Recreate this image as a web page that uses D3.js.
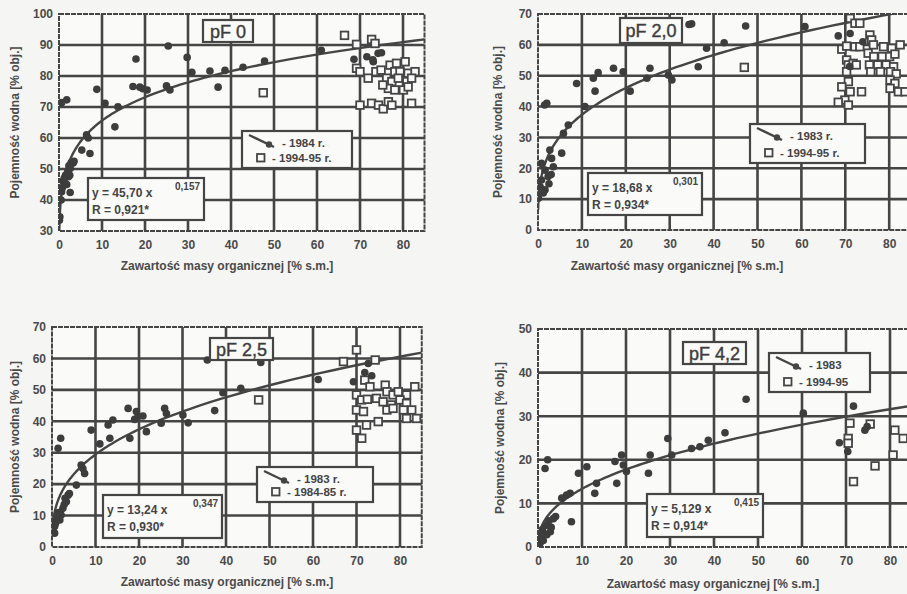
<!DOCTYPE html>
<html>
<head>
<meta charset="utf-8">
<script src="https://cdn.jsdelivr.net/npm/d3@7"></script>
<style>
  body { margin: 0; background: #f5f5f4; }
  svg { display: block; font-family: "Liberation Sans", Arial, sans-serif; }
  .tick { font-size: 12px; font-weight: bold; fill: #4a4a4a; }
  .axlabel { font-size: 12px; font-weight: bold; fill: #4a4a4a; }
  .boxtext { font-size: 12px; font-weight: bold; fill: #444; }
</style>
</head>
<body>
<svg id="chart" width="907" height="594"></svg>
<script>
// ---- data ----
const panelNames = ["pF 0", "pF 2,0", "pF 2,5", "pF 4,2"];
const coefA = [45.70, 18.68, 13.24, 5.129];
const coefB = [0.157, 0.301, 0.347, 0.415];
const coefLabels = ["45,70", "18,68", "13,24", "5,129"];
const expLabels = ["0,157", "0,301", "0,347", "0,415"];
const rLabels = ["0,921*", "0,934*", "0,930*", "0,914*"];
const yMins = [30, 0, 0, 0];
const yMaxs = [100, 70, 70, 50];
const legendFirst = ["- 1984 r.", "- 1983 r.", "- 1983 r.", "- 1983"];
const legendSecond = ["- 1994-95 r.", "- 1994-95 r.", "- 1984-85 r.", "- 1994-95"];

const pf0Circles = [[25.4,89.7],[17.9,85.5],[29.8,86],[30.9,81.2],[35.1,81.6],[38.6,81.8],[42.8,82.8],[37,76.4],
  [8.8,75.7],[17.2,76.6],[18.8,76.4],[19.5,75.9],[20.5,75.5],[25,76.8],[25.8,75.5],[1.8,72.3],[0.6,71.4],
  [10.7,71.2],[13.7,70.1],[13,63.6],[6.4,61],[6.8,60],[5.3,56.1],[7.2,55],[3.3,51.9],[2.6,50.2],[2.2,47.5],
  [1.4,45.4],[2.6,42.4],[0.6,42.7],[0.2,34.6],[0.1,33.5],[0.8,44],[1,46],[1.2,47],[1.5,48],[2,49],[2.3,51],
  [2.8,52],[3.5,52.5],[1.8,45],[0.5,40],[2.5,48],[47.8,84.8],[61,88.3],[68.6,85.4],[71.6,86.2],[73,85.2],
  [73.1,84.6],[74.2,87.3],[75,87.5]];
const pf0Squares = [[66.4,93.1],[69.2,90.2],[72.7,91.8],[73.5,90.5],[47.5,74.6],[69.2,82.5],[70,81.4],[71.9,79.3],
  [73.7,81.4],[74.9,81.9],[77,83.5],[78.5,84.1],[80.5,84.6],[78.1,81.4],[79.3,81.4],[81.2,80.9],[82.8,81.4],
  [76.2,79.3],[77.4,78.2],[78.9,79.3],[80.9,78.2],[82,79.3],[76.6,76],[78.1,75.5],[80.1,75.5],[81.2,76.5],
  [75.3,77.1],[70,70.6],[72.7,71.2],[74.3,70.6],[75.4,69.4],[76.6,71.7],[77.4,70.6],[82,71.2]];

const pf20Circles = [[35,66.8],[34.4,66.6],[47.3,66.1],[38.4,58.9],[42.4,60.7],[36.5,52.9],[8.8,47.5],[12.6,49.2],
  [13.7,51],[17.2,52.4],[19.4,51.3],[13,45],[21,45],[25.5,52.4],[24.8,49.2],[29.7,50.2],[30.5,48.6],[2,41.1],
  [1.5,40.5],[10.7,40],[6.9,34],[5.8,31.3],[5.4,24.9],[2.7,25.9],[0.8,21.6],[1.6,19.4],[2.3,17.3],[0.5,14],
  [0.8,16.2],[0.1,10.3],[3.1,23.2],[3.5,20.5],[1.6,13],[2.5,15],[3,18],[1.2,12],[60.8,65.9],[68.4,62.9],
  [71.1,63.7],[71,53],[74,61]];
const pf20Squares = [[71.1,68.6],[72.2,67],[73.3,67],[47,52.7],[69.2,58.6],[70.3,59.6],[72.2,59.4],[73.3,59.4],
  [75.6,63.2],[76,61.6],[76.4,60],[78.7,59.4],[80.6,58.9],[82.5,60],[75.2,57.3],[76.5,56.2],[78.4,56.2],
  [80.1,56.2],[81.3,57],[75.5,53.5],[77.4,53.5],[79.3,53.5],[81,52.9],[75.8,51.3],[78,51.3],[80.3,51.3],
  [81.6,50.6],[70.3,55.1],[70.7,53.5],[71.8,54],[72.5,53.5],[70.3,51.3],[70.7,48.1],[69.2,46.4],[71.1,44.8],
  [73.7,44.8],[69.9,42.1],[68.4,41.4],[70.7,40.5],[80.2,48.6],[81.3,47.5],[80.2,45.9],[82.1,44.8],[83.6,44.8]];

const pf25Circles = [[35.7,59.5],[39.3,49.1],[43.4,50.5],[48,58.7],[37.4,43.4],[17.5,44.1],[19.4,43.1],[19.8,41.5],
  [20.9,41.7],[19,40.6],[25.9,44.1],[26.3,42.5],[30.1,42],[31.3,39.5],[25.1,39.4],[14,40.4],[12.9,38.8],
  [9,37.2],[17.9,34.6],[21.7,36.7],[13.3,34.6],[11,32.8],[2,34.6],[1.4,31.4],[6.7,26.1],[7.1,25],[7.5,23.4],
  [5.6,19.7],[3.7,16.5],[3.3,14.4],[2.5,12.3],[2.1,10.2],[1.8,8.6],[0.6,6.5],[0.6,4.4],[3,15.5],[2.8,13.5],
  [1.5,11],[1,9],[0.8,7.5],[4,17],[61.2,53.3],[69.3,52.6],[71.9,55.5],[72.7,58.4],[73.5,54.5]];
const pf25Squares = [[70,62.7],[67,59],[74.3,59.5],[47.5,46.8],[71.9,53.1],[73.1,51],[70,48.4],[71.2,46.8],
  [72.5,47],[70,43.6],[71.6,43.1],[70,37.2],[71.2,34.6],[72.3,38.8],[75,39.9],[76.6,51.5],[77,49.4],[78.4,48.4],
  [79.6,49.4],[81.5,48.4],[83.4,51],[74.6,47.3],[76.1,46.2],[78,45.2],[80,46.8],[81.5,45.7],[80.8,43.6],
  [82.7,43.6],[81.5,40.9],[83.8,40.9],[77,43.6],[78.4,44.1]];

const pf42Circles = [[42.5,26.2],[29.5,24.9],[38.7,24.5],[36.8,23],[34.9,22.6],[30.4,21.1],[25.5,21.1],[19,21.1],
  [19.4,18.8],[17.5,19.6],[20.1,17.3],[25.1,16.9],[17.9,14.6],[11.1,18.4],[9.2,16.9],[2.2,20],[1.6,18],
  [13.3,14.6],[12.9,12.3],[7.3,12.3],[6.5,11.9],[5.4,11.2],[7.6,5.8],[47.3,33.9],[60.3,30.7],[71.7,32.3],
  [74.3,26.8],[74.8,27.6],[68.5,23.9],[70.4,21.9],[0.5,1],[0.8,2.5],[1,4],[1.5,3],[2,5],[2.5,6],[3,4.5],
  [3.5,6.5],[4,7],[1.2,1.5],[2,2.8],[0.3,0.5],[2.8,3.5]];
const pf42Squares = [[70.9,28.4],[75.5,28.2],[70.5,24.9],[70.5,23.8],[81.1,26.8],[83,24.9],[80.7,21.1],
  [76.6,18.6],[71.7,15]];

const circleSets = [pf0Circles, pf20Circles, pf25Circles, pf42Circles];
const squareSets = [pf0Squares, pf20Squares, pf25Squares, pf42Squares];

// ---- layout ----
const ink = "#454545";
const panels = [
  {left: 59,  top: 14,  pxX: 4.3,  bottom: 231, eq: [29,164,116,42],  leg: [183,117,110,37], pf: [144,6,50,22],  yLab: 15,  xLab: [227,270]},
  {left: 538, top: 14,  pxX: 4.39, bottom: 230, eq: [50,159,114,42],  leg: [212,110,115,39], pf: [82,4,62,25],   yLab: 498, xLab: [677,270]},
  {left: 52,  top: 327, pxX: 4.35, bottom: 547, eq: [51,168,119,43],  leg: [205,140,116,35], pf: [158,11,63,22], yLab: 15,  xLab: [227,586]},
  {left: 538, top: 329, pxX: 4.4,  bottom: 547, eq: [109,165,116,43], leg: [231,24,101,39],  pf: [145,13,63,22], yLab: 500, xLab: [713,588]}
];

const svg = d3.select("#chart");

panels.forEach((p, i) => {
  let right = p.left + 85 * p.pxX;
  let x = d3.scaleLinear().domain([0, 85]).range([p.left, right]);
  let y = d3.scaleLinear().domain([yMins[i], yMaxs[i]]).range([p.bottom, p.top]);
  let g = svg.append("g");

  let clipId = "clip" + i;
  svg.append("clipPath").attr("id", clipId)
    .append("rect").attr("x", p.left).attr("y", p.top)
    .attr("width", right - p.left).attr("height", p.bottom - p.top);

  g.append("rect").attr("x", p.left).attr("y", p.top)
    .attr("width", right - p.left).attr("height", p.bottom - p.top)
    .attr("fill", "#fafaf9");

  // grid
  let xt = d3.range(10, 81, 10);
  let yt = d3.range(yMins[i] + 10, yMaxs[i], 10);
  g.selectAll(".vg").data(xt).enter().append("line")
    .attr("x1", d => x(d)).attr("x2", d => x(d)).attr("y1", p.top).attr("y2", p.bottom)
    .attr("stroke", ink).attr("stroke-width", 2.6);
  g.selectAll(".hg").data(yt).enter().append("line")
    .attr("x1", p.left).attr("x2", right).attr("y1", d => y(d)).attr("y2", d => y(d))
    .attr("stroke", ink).attr("stroke-width", 2.6);

  // frame
  g.append("rect").attr("x", p.left).attr("y", p.top)
    .attr("width", right - p.left).attr("height", p.bottom - p.top)
    .attr("fill", "none").attr("stroke", ink).attr("stroke-width", 2)
    .attr("stroke-dasharray", "5,1");

  // axes (labels only)
  let xAxis = g.append("g").attr("transform", "translate(0," + p.bottom + ")")
    .call(d3.axisBottom(x).tickValues(d3.range(0, 81, 10)).tickSize(0).tickPadding(9));
  let yAxis = g.append("g").attr("transform", "translate(" + p.left + ",0)")
    .call(d3.axisLeft(y).tickValues(d3.range(yMins[i], yMaxs[i] + 1, 10)).tickSize(0).tickPadding(6));
  [xAxis, yAxis].forEach(a => {
    a.select(".domain").remove();
    a.selectAll("text").attr("class", "tick").attr("fill", "#4a4a4a");
  });

  // fitted curve
  let a = coefA[i], b = coefB[i];
  let x0 = Math.max(0.03, Math.pow(yMins[i] / a, 1 / b));
  let xs = d3.range(0, 1.0001, 0.005).map(t => x0 * Math.pow(85 / x0, t));
  g.append("path").datum(xs)
    .attr("clip-path", "url(#" + clipId + ")")
    .attr("d", d3.line().x(d => x(d)).y(d => y(a * Math.pow(d, b))))
    .attr("fill", "none").attr("stroke", ink).attr("stroke-width", 2.4);

  // points
  let pts = g.append("g").attr("clip-path", "url(#" + clipId + ")");
  pts.selectAll(".sq").data(squareSets[i]).enter().append("rect")
    .attr("x", d => x(d[0]) - 3.8).attr("y", d => y(d[1]) - 3.8)
    .attr("width", 7.6).attr("height", 7.6)
    .attr("fill", "#fafafa").attr("stroke", ink).attr("stroke-width", 1.8);
  pts.selectAll(".ci").data(circleSets[i]).enter().append("circle")
    .attr("cx", d => x(d[0])).attr("cy", d => y(d[1])).attr("r", 3.8)
    .attr("fill", "#3d3d3d");

  // equation box
  let [ex, ey, ew, eh] = p.eq;
  let eg = g.append("g").attr("transform", "translate(" + (p.left + ex) + "," + (p.top + ey) + ")");
  eg.append("rect").attr("width", ew).attr("height", eh)
    .attr("fill", "#fafaf9").attr("stroke", ink).attr("stroke-width", 2.2);
  eg.append("text").attr("class", "boxtext").attr("x", 4).attr("y", 19)
    .text("y = " + coefLabels[i] + " x");
  eg.append("text").attr("class", "boxtext").attr("x", ew - 29).attr("y", 12)
    .style("font-size", "10px").text(expLabels[i]);
  eg.append("text").attr("class", "boxtext").attr("x", 4).attr("y", 36)
    .text("R = " + rLabels[i]);

  // legend box
  let [lx, ly, lw, lh] = p.leg;
  let lg = g.append("g").attr("transform", "translate(" + (p.left + lx) + "," + (p.top + ly) + ")");
  lg.append("rect").attr("width", lw).attr("height", lh)
    .attr("fill", "#fafaf9").attr("stroke", ink).attr("stroke-width", 2.2);
  lg.append("line").attr("x1", 7).attr("y1", 4).attr("x2", 32).attr("y2", 16)
    .attr("stroke", ink).attr("stroke-width", 2.4);
  lg.append("circle").attr("cx", 27).attr("cy", 13.5).attr("r", 3.2).attr("fill", ink);
  lg.append("text").attr("class", "boxtext").attr("x", 40).attr("y", 16)
    .style("font-size", "11.5px").text(legendFirst[i]);
  lg.append("rect").attr("x", 15).attr("y", lh - 14).attr("width", 7.5).attr("height", 7.5)
    .attr("fill", "#fafafa").attr("stroke", ink).attr("stroke-width", 1.8);
  lg.append("text").attr("class", "boxtext").attr("x", 30).attr("y", lh - 6)
    .style("font-size", "11.5px").text(legendSecond[i]);

  // pF label
  let [px, py, pw, ph] = p.pf;
  g.append("rect").attr("x", p.left + px).attr("y", p.top + py).attr("width", pw).attr("height", ph)
    .attr("fill", "#fafaf9").attr("stroke", ink).attr("stroke-width", 2.2);
  g.append("text").attr("x", p.left + px + pw / 2).attr("y", p.top + py + ph / 2 + 6.5)
    .attr("text-anchor", "middle").style("font-size", "18px")
    .attr("fill", "#3d3d3d").attr("stroke", "#3d3d3d").attr("stroke-width", 0.4)
    .text(panelNames[i]);

  // axis titles
  svg.append("text").attr("class", "axlabel")
    .attr("transform", "translate(" + p.yLab + "," + ((p.top + p.bottom) / 2) + ") rotate(-90)")
    .attr("text-anchor", "middle").attr("dy", "0.35em")
    .text("Pojemność wodna [% obj.]");
  svg.append("text").attr("class", "axlabel")
    .attr("x", p.xLab[0]).attr("y", p.xLab[1]).attr("text-anchor", "middle")
    .text("Zawartość masy organicznej [% s.m.]");
});
</script>
</body>
</html>
